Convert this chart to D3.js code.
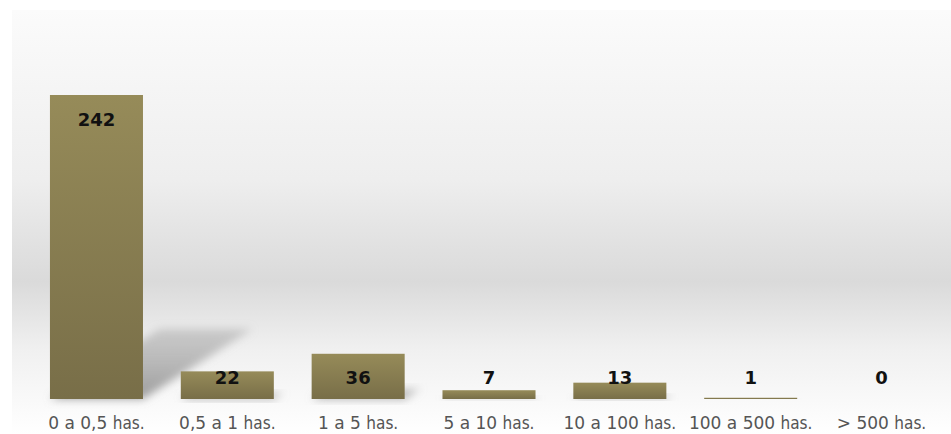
<!DOCTYPE html>
<html>
<head>
<meta charset="utf-8">
<script src="https://cdn.jsdelivr.net/npm/d3@7"></script>
<style>
  html, body { margin: 0; padding: 0; background: #ffffff; }
  svg { display: block; }
</style>
</head>
<body>
<div id="chart"></div>
<script>
// datos: explotaciones por tamaño
const rangos = ["0 a 0,5", "0,5 a 1", "1 a 5", "5 a 10", "10 a 100", "100 a 500", "> 500"];
const unidades = ["has.", "has.", "has.", "has.", "has.", "has.", "has."];
const cantidades = [242, 22, 36, 7, 13, 1, 0];

const width = 951;
const height = 434;
const baseline = 399;

const svg = d3.select("#chart").append("svg")
  .attr("width", width)
  .attr("height", height);

const defs = svg.append("defs");

// fondo degradado gris
const bg = defs.append("linearGradient")
  .attr("id", "bg-grad")
  .attr("x1", 0).attr("y1", 0).attr("x2", 0).attr("y2", 1);
bg.append("stop").attr("offset", "0%").attr("stop-color", "#fbfbfb");
bg.append("stop").attr("offset", "40%").attr("stop-color", "#eeeeee");
bg.append("stop").attr("offset", "64%").attr("stop-color", "#dadada");
bg.append("stop").attr("offset", "80%").attr("stop-color", "#f0f0f0");
bg.append("stop").attr("offset", "100%").attr("stop-color", "#ffffff");

const barGrad = defs.append("linearGradient")
  .attr("id", "bar-grad")
  .attr("x1", 0).attr("y1", 0).attr("x2", 0).attr("y2", 1);
barGrad.append("stop").attr("offset", "0%").attr("stop-color", "#968b59");
barGrad.append("stop").attr("offset", "100%").attr("stop-color", "#786e48");

const shGrad = defs.append("linearGradient")
  .attr("id", "shadow-grad")
  .attr("x1", 0).attr("y1", 1).attr("x2", 0).attr("y2", 0);
shGrad.append("stop").attr("offset", "0%").attr("stop-color", "#8c8c8c").attr("stop-opacity", 0.85);
shGrad.append("stop").attr("offset", "100%").attr("stop-color", "#a8a8a8").attr("stop-opacity", 0.5);

const blur = defs.append("filter")
  .attr("id", "shadow-blur")
  .attr("x", "-50%").attr("y", "-50%").attr("width", "200%").attr("height", "200%");
blur.append("feGaussianBlur").attr("stdDeviation", 4);

svg.append("rect")
  .attr("x", 12).attr("y", 10)
  .attr("width", width - 12).attr("height", height - 10)
  .attr("fill", "url(#bg-grad)");

const x = d3.scaleBand()
  .domain(rangos)
  .range([12, 966])
  .paddingInner(0.289)
  .paddingOuter(0.29);

const y = d3.scaleLinear()
  .domain([0, 242])
  .range([baseline, 95]);

// sombras en perspectiva
svg.append("g").selectAll("path")
  .data(rangos)
  .join("path")
  .attr("d", (d, i) => {
    const h = baseline - y(cantidades[i]);
    const dx = h * 0.36, dy = h * 0.23;
    const x0 = x(d), x1 = x(d) + x.bandwidth();
    return `M${x0},${baseline} L${x1},${baseline} L${x1 + dx},${baseline - dy} L${x0 + dx},${baseline - dy} Z`;
  })
  .attr("fill", "url(#shadow-grad)")
  .attr("filter", "url(#shadow-blur)");

svg.append("g").selectAll("rect")
  .data(rangos)
  .join("rect")
  .attr("x", d => x(d))
  .attr("y", (d, i) => y(cantidades[i]))
  .attr("width", x.bandwidth())
  .attr("height", (d, i) => baseline - y(cantidades[i]))
  .attr("fill", "url(#bar-grad)");

// etiquetas de valor
svg.append("g").selectAll("text")
  .data(rangos)
  .join("text")
  .attr("x", d => x(d) + x.bandwidth() / 2)
  .attr("y", (d, i) => Math.min(y(cantidades[i]) + 25, 378))
  .attr("dy", "0.35em")
  .attr("text-anchor", "middle")
  .attr("font-family", "DejaVu Sans, sans-serif")
  .attr("font-weight", "bold")
  .attr("font-size", 18)
  .attr("fill", "#111111")
  .text((d, i) => cantidades[i]);

// etiquetas de categoría
const cat = svg.append("g").selectAll("text")
  .data(rangos)
  .join("text")
  .attr("x", d => x(d) + x.bandwidth() / 2)
  .attr("y", 429)
  .attr("text-anchor", "middle")
  .attr("fill", "#555555");

cat.append("tspan")
  .attr("font-family", "DejaVu Sans, sans-serif")
  .attr("font-size", 17)
  .text(d => d + " ");

cat.append("tspan")
  .attr("font-family", "DejaVu Sans Condensed, DejaVu Sans, sans-serif")
  .attr("font-stretch", "condensed")
  .attr("font-size", 17)
  .text((d, i) => unidades[i]);
</script>
</body>
</html>
